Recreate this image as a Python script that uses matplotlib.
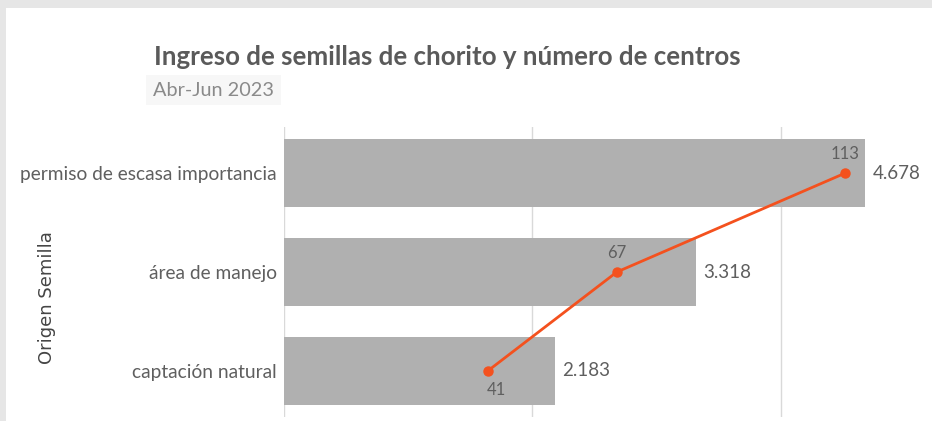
import matplotlib.pyplot as plt
from matplotlib.patches import Rectangle

# data
origen = ['permiso de escasa importancia', 'área de manejo', 'captación natural']
semillas = [4678, 3318, 2183]
centros = [113, 67, 41]

titulo = 'Ingreso de semillas de chorito y número de centros'
subtitulo = 'Abr-Jun 2023'

gris_barra = '#b0b0b0'
naranja = '#f4511e'
gris_texto = '#5f5f5f'

fig = plt.figure(figsize=(9.32, 4.21), dpi=100, facecolor='#e6e6e6')
fig.patches.append(Rectangle((6 / 932, 0), 1, 1 - 8 / 421, transform=fig.transFigure,
                             facecolor='white', edgecolor='none', zorder=-10))

ax = fig.add_axes([284 / 932, 4 / 421, 1 - 284 / 932, (417 - 127) / 421])
ax.set_facecolor('none')

y = list(range(len(origen)))
ax.barh(y, semillas, height=0.69, color=gris_barra, zorder=2)
ax.set_ylim(2.465, -0.465)
ax.set_xlim(0, (932 - 284) / 124.2 * 1000)
ax.set_xticks([0, 2000, 4000])
ax.xaxis.set_ticklabels([])
ax.tick_params(axis='x', length=0)
ax.grid(axis='x', color='#d9d9d9', linewidth=1, zorder=0)
for s in ax.spines.values():
    s.set_visible(False)

ax.set_yticks(y)
ax.set_yticklabels(origen, fontsize=13.8, color=gris_texto, family='Lato')
ax.tick_params(axis='y', length=0, pad=5)
ax.set_ylabel('Origen Semilla', fontsize=13, color='#444444')
ax.yaxis.set_label_coords((56 - 284) / 648, (417 - 298) / 290)

for yi, v in zip(y, semillas):
    ax.text(v + 60, yi, f'{v:,}'.replace(',', '.'), va='center', ha='left',
            fontsize=13.5, color=gris_texto, family='Lato')

# linea de centros en eje secundario (1 centro = 40 semillas en la escala)
ax2 = ax.twiny()
ax2.set_xlim(0, ax.get_xlim()[1] / 40)
ax2.plot(centros, y, color=naranja, linewidth=2, marker='o', markersize=6.5, zorder=5)
ax2.axis('off')
offsets = [(0, 8, 'bottom'), (0, 8, 'bottom'), (6, -8, 'top')]
for yi, c, (dx, dy, va) in zip(y, centros, offsets):
    ax2.annotate(str(c), (c, yi), xytext=(dx, dy), textcoords='offset points',
                 ha='center', va=va, fontsize=12, color=gris_texto, family='Lato')

fig.text(0.48, 1 - 57 / 421, titulo, ha='center', va='center', fontsize=18.6,
         fontweight='bold', color='#5a5a5a', family='Lato')
fig.text(153 / 932, 1 - 90 / 421, subtitulo, ha='left', va='center', fontsize=14.3,
         color='#8a8a8a', family='Lato',
         bbox=dict(facecolor='#f7f7f7', edgecolor='none', pad=5))

fig.savefig('out.png', dpi=100, facecolor=fig.get_facecolor())
